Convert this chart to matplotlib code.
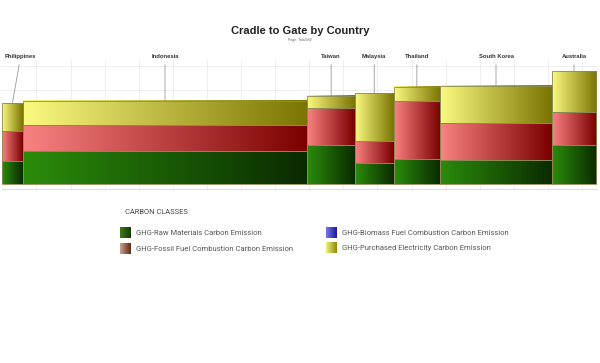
import numpy as np
import matplotlib
matplotlib.use("Agg")
from matplotlib import pyplot as plt
from matplotlib.colors import LinearSegmentedColormap

plt.rcParams["font.family"] = ["Liberation Sans", "DejaVu Sans"]

countries = ["Philippines", "Indonesia", "Taiwan", "Malaysia", "Thailand", "South Korea", "Australia"]
widths = [20.4, 284.6, 47.7, 38.5, 46.7, 111.6, 44.4]
raw_materials = [19.8, 28.3, 33.2, 18.1, 21.5, 20.4, 33.2]
fossil_fuel = [25.5, 21.9, 31.2, 18.5, 48.8, 31.7, 28.3]
biomass_fuel = [0, 0, 0, 0, 0, 0, 0]
electricity = [23.8, 20.7, 10.5, 40.6, 12.5, 31.7, 34.6]

classes = [
    "GHG-Raw Materials Carbon Emission",
    "GHG-Fossil Fuel Combustion Carbon Emission",
    "GHG-Biomass Fuel Combustion Carbon Emission",
    "GHG-Purchased Electricity Carbon Emission",
]

bar_cmaps = [
    LinearSegmentedColormap.from_list("raw", ["#2b8c0b", "#0a2a01"]),
    LinearSegmentedColormap.from_list("fossil", ["#f98282", "#7a0000"]),
    LinearSegmentedColormap.from_list("bio", ["#8a8aff", "#20209a"]),
    LinearSegmentedColormap.from_list("elec", ["#fbfa80", "#7a7402"]),
]
swatch_cmaps = [
    LinearSegmentedColormap.from_list("raw_s", ["#3e7a1e", "#163a04"]),
    LinearSegmentedColormap.from_list("fossil_s", ["#d0a090", "#5a2a18"]),
    LinearSegmentedColormap.from_list("bio_s", ["#7878f0", "#1a1a90"]),
    LinearSegmentedColormap.from_list("elec_s", ["#f2f27a", "#8a8a08"]),
]

grad = np.linspace(0, 1, 256).reshape(1, -1)

fig = plt.figure(figsize=(6, 3.63), dpi=100)
ax = fig.add_axes([2.3 / 600, 1 - 190 / 363, 595.7 / 600, 130 / 363])

lefts = np.concatenate([[0], np.cumsum(widths)[:-1]])
series = [raw_materials, fossil_fuel, biomass_fuel, electricity]
bottoms = np.zeros(len(countries))
for vals, cmap in zip(series, bar_cmaps):
    vals = np.array(vals, dtype=float)
    for x0, w, b, v in zip(lefts, widths, bottoms, vals):
        if v <= 0:
            continue
        ax.imshow(grad, extent=(x0, x0 + w, b, b + v), cmap=cmap, aspect="auto",
                  interpolation="bicubic", zorder=2)
    ax.bar(lefts, vals, width=widths, bottom=bottoms, align="edge", fill=False,
           edgecolor="#8c8a55", linewidth=0.6, zorder=3)
    bottoms = bottoms + vals

xmax = 595.7
ax.set_xlim(0, xmax)
ax.set_ylim(-5.1, 105.5)
for gx in np.arange(34.1, xmax, 34.1):
    ax.axvline(gx, color="#ebebeb", linewidth=0.6, zorder=0)
for gy in np.arange(0, 105, 20):
    ax.axhline(gy, color="#ebebeb", linewidth=0.6, zorder=0)
ax.axhline(-4.6, color="#dedede", linewidth=0.8, zorder=0)
ax.set_xticks([])
ax.set_yticks([])
for s in ax.spines.values():
    s.set_visible(False)

# country labels with leader lines
centers = lefts + np.array(widths) / 2
for i, (name, cx, top) in enumerate(zip(countries, centers, bottoms)):
    tx = cx if i > 0 else cx + 8
    ax.annotate(name, xy=(cx, top), xytext=(tx, 1.025),
                textcoords=("data", "axes fraction"), ha="center", va="center",
                fontsize=4.2, fontweight="bold", color="#333333",
                arrowprops=dict(arrowstyle="-", color="#999999", lw=0.6,
                                shrinkA=2, shrinkB=0),
                annotation_clip=False)

fig.text(0.5, 1 - 31 / 363, "Cradle to Gate by Country", ha="center", va="center",
         fontsize=8, fontweight="bold", color="#222222")
fig.text(0.5, 1 - 40 / 363, "Page: Total kW", ha="center", va="center",
         fontsize=2.5, color="#666666")

# legend
lg = fig.add_axes([0, 0, 1, 1], zorder=-1)
lg.axis("off")
lg.text(125, 213, "CARBON CLASSES", fontsize=5.4, color="#444444", va="center",
        family=["Roboto", "DejaVu Sans"])
spots = [(120, 233), (120, 249), (326, 233), (326, 248)]
for (sx, sy), label, cmap in zip(spots, classes, swatch_cmaps):
    lg.imshow(grad, extent=(sx, sx + 11, sy + 5.5, sy - 5.5), cmap=cmap,
              aspect="auto", interpolation="bicubic")
    lg.text(sx + 16, sy, label, fontsize=5.5, color="#555555", va="center",
            family=["Roboto", "DejaVu Sans"])
lg.set_xlim(0, 600)
lg.set_ylim(363, 0)

fig.savefig("out.png", dpi=100)
